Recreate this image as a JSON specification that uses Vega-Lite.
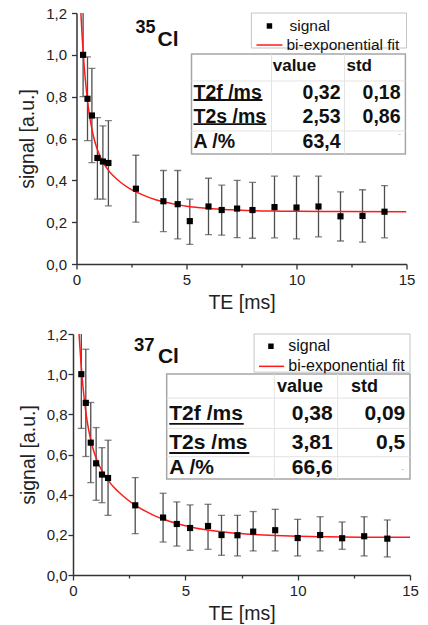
{
  "$schema": "https://vega.github.io/schema/vega-lite/v6.json",
  "padding": {"left": 17, "top": 6, "right": 5, "bottom": 2},
  "spacing": 70,
  "columns": 1,
  "bounds": "flush",
  "center": true,
  "datasets": {
    "cl35": [
      {"te": 0.3, "s": 1.0, "lo": 0.8, "hi": 1.21},
      {"te": 0.5, "s": 0.79, "lo": 0.59, "hi": 0.99},
      {"te": 0.7, "s": 0.71, "lo": 0.485, "hi": 0.935},
      {"te": 0.95, "s": 0.507, "lo": 0.31, "hi": 0.7},
      {"te": 1.2, "s": 0.49, "lo": 0.31, "hi": 0.66},
      {"te": 1.45, "s": 0.483, "lo": 0.278, "hi": 0.685},
      {"te": 2.7, "s": 0.36, "lo": 0.2, "hi": 0.52},
      {"te": 3.95, "s": 0.3, "lo": 0.155, "hi": 0.447},
      {"te": 4.6, "s": 0.286, "lo": 0.12, "hi": 0.447},
      {"te": 5.15, "s": 0.205, "lo": 0.094, "hi": 0.31},
      {"te": 6.0, "s": 0.275, "lo": 0.14, "hi": 0.41},
      {"te": 6.6, "s": 0.258, "lo": 0.138, "hi": 0.377},
      {"te": 7.3, "s": 0.265, "lo": 0.126, "hi": 0.4},
      {"te": 8.0, "s": 0.258, "lo": 0.123, "hi": 0.39},
      {"te": 9.0, "s": 0.272, "lo": 0.125, "hi": 0.42},
      {"te": 10.0, "s": 0.27, "lo": 0.12, "hi": 0.42},
      {"te": 11.0, "s": 0.275, "lo": 0.13, "hi": 0.42},
      {"te": 12.0, "s": 0.228, "lo": 0.11, "hi": 0.345},
      {"te": 13.0, "s": 0.23, "lo": 0.105, "hi": 0.355},
      {"te": 14.0, "s": 0.25, "lo": 0.125, "hi": 0.375}
    ],
    "fit35": [
      {"t": 0.2, "f": 1.2}, {"t": 0.25, "f": 1.1015}, {"t": 0.3, "f": 1.017}, {"t": 0.35, "f": 0.945},
      {"t": 0.4, "f": 0.883}, {"t": 0.5, "f": 0.781}, {"t": 0.6, "f": 0.704}, {"t": 0.7, "f": 0.645},
      {"t": 0.8, "f": 0.599}, {"t": 0.9, "f": 0.562}, {"t": 1.0, "f": 0.533}, {"t": 1.2, "f": 0.488},
      {"t": 1.4, "f": 0.455}, {"t": 1.6, "f": 0.429}, {"t": 1.8, "f": 0.409}, {"t": 2.0, "f": 0.391},
      {"t": 2.4, "f": 0.362}, {"t": 2.8, "f": 0.34}, {"t": 3.2, "f": 0.322}, {"t": 3.6, "f": 0.307},
      {"t": 4.0, "f": 0.296}, {"t": 4.5, "f": 0.285}, {"t": 5.0, "f": 0.276}, {"t": 5.5, "f": 0.27},
      {"t": 6.0, "f": 0.265}, {"t": 7.0, "f": 0.259}, {"t": 8.0, "f": 0.255}, {"t": 9.0, "f": 0.253},
      {"t": 10.0, "f": 0.252}, {"t": 12.0, "f": 0.2505}, {"t": 15.0, "f": 0.25}
    ],
    "cl37": [
      {"te": 0.37, "s": 1.0, "lo": 0.73, "hi": 1.21},
      {"te": 0.57, "s": 0.857, "lo": 0.59, "hi": 1.124},
      {"te": 0.79, "s": 0.659, "lo": 0.46, "hi": 0.859},
      {"te": 1.03, "s": 0.556, "lo": 0.372, "hi": 0.734},
      {"te": 1.29, "s": 0.5, "lo": 0.36, "hi": 0.634},
      {"te": 1.56, "s": 0.483, "lo": 0.297, "hi": 0.671},
      {"te": 2.77, "s": 0.347, "lo": 0.206, "hi": 0.485},
      {"te": 4.01, "s": 0.286, "lo": 0.164, "hi": 0.407},
      {"te": 4.62, "s": 0.254, "lo": 0.144, "hi": 0.364},
      {"te": 5.21, "s": 0.234, "lo": 0.123, "hi": 0.349},
      {"te": 6.01, "s": 0.244, "lo": 0.128, "hi": 0.352},
      {"te": 6.61, "s": 0.199, "lo": 0.098, "hi": 0.297},
      {"te": 7.32, "s": 0.198, "lo": 0.095, "hi": 0.297},
      {"te": 8.02, "s": 0.216, "lo": 0.12, "hi": 0.316},
      {"te": 9.0, "s": 0.223, "lo": 0.12, "hi": 0.327},
      {"te": 10.0, "s": 0.184, "lo": 0.095, "hi": 0.277},
      {"te": 11.0, "s": 0.199, "lo": 0.12, "hi": 0.29},
      {"te": 11.98, "s": 0.183, "lo": 0.128, "hi": 0.264},
      {"te": 12.96, "s": 0.193, "lo": 0.095, "hi": 0.29},
      {"te": 13.99, "s": 0.181, "lo": 0.09, "hi": 0.274}
    ],
    "fit37": [
      {"t": 0.27, "f": 1.2}, {"t": 0.3, "f": 1.147}, {"t": 0.35, "f": 1.064}, {"t": 0.4, "f": 0.993},
      {"t": 0.5, "f": 0.877}, {"t": 0.6, "f": 0.789}, {"t": 0.7, "f": 0.721}, {"t": 0.8, "f": 0.668},
      {"t": 0.9, "f": 0.625}, {"t": 1.0, "f": 0.591}, {"t": 1.2, "f": 0.538}, {"t": 1.4, "f": 0.498},
      {"t": 1.6, "f": 0.466}, {"t": 1.8, "f": 0.439}, {"t": 2.0, "f": 0.417}, {"t": 2.4, "f": 0.377},
      {"t": 2.8, "f": 0.345}, {"t": 3.2, "f": 0.319}, {"t": 3.6, "f": 0.297}, {"t": 4.0, "f": 0.279},
      {"t": 4.5, "f": 0.26}, {"t": 5.0, "f": 0.245}, {"t": 5.5, "f": 0.233}, {"t": 6.0, "f": 0.224},
      {"t": 6.5, "f": 0.2165}, {"t": 7.0, "f": 0.2105}, {"t": 8.0, "f": 0.202}, {"t": 9.0, "f": 0.1965},
      {"t": 10.0, "f": 0.193}, {"t": 11.0, "f": 0.191}, {"t": 12.0, "f": 0.189}, {"t": 13.0, "f": 0.1885},
      {"t": 15.0, "f": 0.188}
    ]
  },
  "concat": [
    {
      "width": 330,
      "height": 251,
      "layer": [
        {"data": {"name": "cl35"}, "mark": {"type": "rule", "color": "#4d4d4d", "strokeWidth": 1.3, "clip": true},
         "encoding": {
           "x": {"field": "te", "type": "quantitative", "scale": {"domain": [0, 15], "nice": false},
                 "axis": {"title": "TE [ms]", "values": [0, 2.5, 5, 7.5, 10, 12.5, 15],
                          "labelExpr": "datum.value % 5 == 0 ? format(datum.value, 'd') : ''",
                          "tickSize": {"condition": {"test": "datum.value % 5 == 0", "value": 5}, "value": 3}}},
           "y": {"field": "lo", "type": "quantitative", "scale": {"domain": [0, 1.2], "nice": false, "zero": false},
                 "axis": {"title": "signal [a.u.]", "labelPadding": 5, "values": [0, 0.1, 0.2, 0.3, 0.4, 0.5, 0.6, 0.7, 0.8, 0.9, 1.0, 1.1, 1.2],
                          "labelExpr": "round(datum.value * 10) % 2 == 0 ? replace(format(datum.value, '.1f'), '.', ',') : ''",
                          "tickSize": {"condition": {"test": "round(datum.value * 10) % 2 == 0", "value": 5}, "value": 3}}},
           "y2": {"field": "hi"}
         }},
        {"data": {"name": "cl35"}, "mark": {"type": "tick", "orient": "horizontal", "color": "#4d4d4d", "size": 7, "thickness": 1.3, "clip": true},
         "encoding": {"x": {"field": "te", "type": "quantitative"}, "y": {"field": "lo", "type": "quantitative"}}},
        {"data": {"name": "cl35"}, "mark": {"type": "tick", "orient": "horizontal", "color": "#4d4d4d", "size": 7, "thickness": 1.3, "clip": true},
         "encoding": {"x": {"field": "te", "type": "quantitative"}, "y": {"field": "hi", "type": "quantitative"}}},
        {"data": {"name": "fit35"}, "mark": {"type": "line", "color": "#ff1a1a", "strokeWidth": 1.5, "clip": true, "interpolate": "monotone"},
         "encoding": {"x": {"field": "t", "type": "quantitative"}, "y": {"field": "f", "type": "quantitative"}}},
        {"data": {"name": "cl35"}, "mark": {"type": "point", "shape": "square", "filled": true, "color": "#000000", "size": 38, "opacity": 1},
         "encoding": {"x": {"field": "te", "type": "quantitative"}, "y": {"field": "s", "type": "quantitative"}}},
        {"data": {"values": [{}]}, "mark": {"type": "text", "text": "35", "align": "left", "baseline": "alphabetic", "fontSize": 18, "fontWeight": "bold", "color": "#111"},
         "encoding": {"x": {"datum": 2.68, "type": "quantitative"}, "y": {"datum": 1.104, "type": "quantitative"}}},
        {"data": {"values": [{}]}, "mark": {"type": "text", "text": "Cl", "align": "left", "baseline": "alphabetic", "fontSize": 21, "fontWeight": "bold", "color": "#111"},
         "encoding": {"x": {"datum": 3.68, "type": "quantitative"}, "y": {"datum": 1.042, "type": "quantitative"}}},
        {"data": {"values": [{}]}, "mark": {"type": "rect", "fill": "#ffffff", "stroke": "#c4c4c4", "strokeWidth": 1},
         "encoding": {"x": {"datum": 7.95, "type": "quantitative"}, "x2": {"datum": 15}, "y": {"datum": 1.0326, "type": "quantitative"}, "y2": {"datum": 1.2}}},
        {"data": {"values": [{}]}, "mark": {"type": "point", "shape": "square", "filled": true, "color": "#000000", "size": 30, "opacity": 1},
         "encoding": {"x": {"datum": 8.77, "type": "quantitative"}, "y": {"datum": 1.138, "type": "quantitative"}}},
        {"data": {"values": [{}]}, "mark": {"type": "text", "text": "signal", "align": "left", "baseline": "middle", "fontSize": 15.5, "color": "#111"},
         "encoding": {"x": {"datum": 9.68, "type": "quantitative"}, "y": {"datum": 1.138, "type": "quantitative"}}},
        {"data": {"values": [{}]}, "mark": {"type": "rule", "color": "#ff1a1a", "strokeWidth": 1.5},
         "encoding": {"x": {"datum": 8.18, "type": "quantitative"}, "x2": {"datum": 9.36}, "y": {"datum": 1.047, "type": "quantitative"}}},
        {"data": {"values": [{}]}, "mark": {"type": "text", "text": "bi-exponential fit", "align": "left", "baseline": "middle", "fontSize": 15.5, "color": "#111"},
         "encoding": {"x": {"datum": 9.545, "type": "quantitative"}, "y": {"datum": 1.047, "type": "quantitative"}}},
        {"data": {"values": [{}]}, "mark": {"type": "rect", "fill": "#ffffff", "stroke": "#a6a6a6", "strokeWidth": 1.5},
         "encoding": {"x": {"datum": 5.227, "type": "quantitative"}, "x2": {"datum": 14.95}, "y": {"datum": 0.526, "type": "quantitative"}, "y2": {"datum": 1.004}}},
        {"data": {"values": [{}]}, "mark": {"type": "rule", "color": "#e3e3e3", "strokeWidth": 1},
         "encoding": {"x": {"datum": 5.227, "type": "quantitative"}, "x2": {"datum": 14.95}, "y": {"datum": 0.875, "type": "quantitative"}}},
        {"data": {"values": [{}]}, "mark": {"type": "rule", "color": "#e3e3e3", "strokeWidth": 1},
         "encoding": {"x": {"datum": 5.227, "type": "quantitative"}, "x2": {"datum": 14.95}, "y": {"datum": 0.636, "type": "quantitative"}}},
        {"data": {"values": [{}]}, "mark": {"type": "rule", "color": "#e3e3e3", "strokeWidth": 1},
         "encoding": {"x": {"datum": 8.864, "type": "quantitative"}, "y": {"datum": 0.526, "type": "quantitative"}, "y2": {"datum": 1.004}}},
        {"data": {"values": [{}]}, "mark": {"type": "rule", "color": "#e3e3e3", "strokeWidth": 1},
         "encoding": {"x": {"datum": 12.18, "type": "quantitative"}, "y": {"datum": 0.526, "type": "quantitative"}, "y2": {"datum": 1.004}}},
        {"data": {"values": [{}]}, "mark": {"type": "text", "text": "value", "align": "left", "baseline": "middle", "fontSize": 17, "fontWeight": "bold", "color": "#111"},
         "encoding": {"x": {"datum": 8.92, "type": "quantitative"}, "y": {"datum": 0.947, "type": "quantitative"}}},
        {"data": {"values": [{}]}, "mark": {"type": "text", "text": "std", "align": "left", "baseline": "middle", "fontSize": 17, "fontWeight": "bold", "color": "#111"},
         "encoding": {"x": {"datum": 12.27, "type": "quantitative"}, "y": {"datum": 0.947, "type": "quantitative"}}},
        {"data": {"values": [{}]}, "mark": {"type": "text", "text": "T2f /ms", "align": "left", "baseline": "middle", "fontSize": 19.5, "fontWeight": "bold", "color": "#111"},
         "encoding": {"x": {"datum": 5.318, "type": "quantitative"}, "y": {"datum": 0.8175, "type": "quantitative"}}},
        {"data": {"values": [{}]}, "mark": {"type": "text", "text": "0,32", "align": "right", "baseline": "middle", "fontSize": 19.5, "fontWeight": "bold", "color": "#111"},
         "encoding": {"x": {"datum": 12.0, "type": "quantitative"}, "y": {"datum": 0.8175, "type": "quantitative"}}},
        {"data": {"values": [{}]}, "mark": {"type": "text", "text": "0,18", "align": "right", "baseline": "middle", "fontSize": 19.5, "fontWeight": "bold", "color": "#111"},
         "encoding": {"x": {"datum": 14.727, "type": "quantitative"}, "y": {"datum": 0.8175, "type": "quantitative"}}},
        {"data": {"values": [{}]}, "mark": {"type": "text", "text": "T2s /ms", "align": "left", "baseline": "middle", "fontSize": 19.5, "fontWeight": "bold", "color": "#111"},
         "encoding": {"x": {"datum": 5.318, "type": "quantitative"}, "y": {"datum": 0.703, "type": "quantitative"}}},
        {"data": {"values": [{}]}, "mark": {"type": "text", "text": "2,53", "align": "right", "baseline": "middle", "fontSize": 19.5, "fontWeight": "bold", "color": "#111"},
         "encoding": {"x": {"datum": 12.0, "type": "quantitative"}, "y": {"datum": 0.703, "type": "quantitative"}}},
        {"data": {"values": [{}]}, "mark": {"type": "text", "text": "0,86", "align": "right", "baseline": "middle", "fontSize": 19.5, "fontWeight": "bold", "color": "#111"},
         "encoding": {"x": {"datum": 14.727, "type": "quantitative"}, "y": {"datum": 0.703, "type": "quantitative"}}},
        {"data": {"values": [{}]}, "mark": {"type": "text", "text": "A /%", "align": "left", "baseline": "middle", "fontSize": 19.5, "fontWeight": "bold", "color": "#111"},
         "encoding": {"x": {"datum": 5.318, "type": "quantitative"}, "y": {"datum": 0.583, "type": "quantitative"}}},
        {"data": {"values": [{}]}, "mark": {"type": "text", "text": "63,4", "align": "right", "baseline": "middle", "fontSize": 19.5, "fontWeight": "bold", "color": "#111"},
         "encoding": {"x": {"datum": 12.0, "type": "quantitative"}, "y": {"datum": 0.583, "type": "quantitative"}}},
        {"data": {"values": [{}]}, "mark": {"type": "text", "text": "-", "align": "center", "baseline": "middle", "fontSize": 8, "color": "#a0a0a0"},
         "encoding": {"x": {"datum": 14.68, "type": "quantitative"}, "y": {"datum": 0.6215, "type": "quantitative"}}},
        {"data": {"values": [{}]}, "mark": {"type": "rule", "color": "#111", "strokeWidth": 1.8},
         "encoding": {"x": {"datum": 5.318, "type": "quantitative"}, "x2": {"datum": 8.455}, "y": {"datum": 0.784, "type": "quantitative"}}},
        {"data": {"values": [{}]}, "mark": {"type": "rule", "color": "#111", "strokeWidth": 1.8},
         "encoding": {"x": {"datum": 5.318, "type": "quantitative"}, "x2": {"datum": 8.636}, "y": {"datum": 0.669, "type": "quantitative"}}}
      ]
    },
    {
      "width": 337,
      "height": 241,
      "layer": [
        {"data": {"name": "cl37"}, "mark": {"type": "rule", "color": "#4d4d4d", "strokeWidth": 1.3, "clip": true},
         "encoding": {
           "x": {"field": "te", "type": "quantitative", "scale": {"domain": [0, 15], "nice": false},
                 "axis": {"title": "TE [ms]", "values": [0, 2.5, 5, 7.5, 10, 12.5, 15],
                          "labelExpr": "datum.value % 5 == 0 ? format(datum.value, 'd') : ''",
                          "tickSize": {"condition": {"test": "datum.value % 5 == 0", "value": 5}, "value": 3}}},
           "y": {"field": "lo", "type": "quantitative", "scale": {"domain": [0, 1.2], "nice": false, "zero": false},
                 "axis": {"title": "signal [a.u.]", "labelPadding": 1, "values": [0, 0.1, 0.2, 0.3, 0.4, 0.5, 0.6, 0.7, 0.8, 0.9, 1.0, 1.1, 1.2],
                          "labelExpr": "round(datum.value * 10) % 2 == 0 ? replace(format(datum.value, '.1f'), '.', ',') : ''",
                          "tickSize": {"condition": {"test": "round(datum.value * 10) % 2 == 0", "value": 5}, "value": 3}}},
           "y2": {"field": "hi"}
         }},
        {"data": {"name": "cl37"}, "mark": {"type": "tick", "orient": "horizontal", "color": "#4d4d4d", "size": 7, "thickness": 1.3, "clip": true},
         "encoding": {"x": {"field": "te", "type": "quantitative"}, "y": {"field": "lo", "type": "quantitative"}}},
        {"data": {"name": "cl37"}, "mark": {"type": "tick", "orient": "horizontal", "color": "#4d4d4d", "size": 7, "thickness": 1.3, "clip": true},
         "encoding": {"x": {"field": "te", "type": "quantitative"}, "y": {"field": "hi", "type": "quantitative"}}},
        {"data": {"name": "fit37"}, "mark": {"type": "line", "color": "#ff1a1a", "strokeWidth": 1.5, "clip": true, "interpolate": "monotone"},
         "encoding": {"x": {"field": "t", "type": "quantitative"}, "y": {"field": "f", "type": "quantitative"}}},
        {"data": {"name": "cl37"}, "mark": {"type": "point", "shape": "square", "filled": true, "color": "#000000", "size": 38, "opacity": 1},
         "encoding": {"x": {"field": "te", "type": "quantitative"}, "y": {"field": "s", "type": "quantitative"}}},
        {"data": {"values": [{}]}, "mark": {"type": "text", "text": "37", "align": "left", "baseline": "alphabetic", "fontSize": 18.5, "fontWeight": "bold", "color": "#111"},
         "encoding": {"x": {"datum": 2.715, "type": "quantitative"}, "y": {"datum": 1.115, "type": "quantitative"}}},
        {"data": {"values": [{}]}, "mark": {"type": "text", "text": "Cl", "align": "left", "baseline": "alphabetic", "fontSize": 21, "fontWeight": "bold", "color": "#111"},
         "encoding": {"x": {"datum": 3.78, "type": "quantitative"}, "y": {"datum": 1.056, "type": "quantitative"}}},
        {"data": {"values": [{}]}, "mark": {"type": "rect", "fill": "#ffffff", "stroke": "#c4c4c4", "strokeWidth": 1},
         "encoding": {"x": {"datum": 8.06, "type": "quantitative"}, "x2": {"datum": 15}, "y": {"datum": 1.01, "type": "quantitative"}, "y2": {"datum": 1.2}}},
        {"data": {"values": [{}]}, "mark": {"type": "point", "shape": "square", "filled": true, "color": "#000000", "size": 30, "opacity": 1},
         "encoding": {"x": {"datum": 8.81, "type": "quantitative"}, "y": {"datum": 1.139, "type": "quantitative"}}},
        {"data": {"values": [{}]}, "mark": {"type": "text", "text": "signal", "align": "left", "baseline": "middle", "fontSize": 16, "color": "#111"},
         "encoding": {"x": {"datum": 9.58, "type": "quantitative"}, "y": {"datum": 1.139, "type": "quantitative"}}},
        {"data": {"values": [{}]}, "mark": {"type": "rule", "color": "#ff1a1a", "strokeWidth": 1.5},
         "encoding": {"x": {"datum": 8.28, "type": "quantitative"}, "x2": {"datum": 9.4}, "y": {"datum": 1.039, "type": "quantitative"}}},
        {"data": {"values": [{}]}, "mark": {"type": "text", "text": "bi-exponential fit", "align": "left", "baseline": "middle", "fontSize": 16, "color": "#111"},
         "encoding": {"x": {"datum": 9.58, "type": "quantitative"}, "y": {"datum": 1.039, "type": "quantitative"}}},
        {"data": {"values": [{}]}, "mark": {"type": "rect", "fill": "#ffffff", "stroke": "#a6a6a6", "strokeWidth": 1.5},
         "encoding": {"x": {"datum": 4.17, "type": "quantitative"}, "x2": {"datum": 15}, "y": {"datum": 0.478, "type": "quantitative"}, "y2": {"datum": 1.001}}},
        {"data": {"values": [{}]}, "mark": {"type": "rule", "color": "#e3e3e3", "strokeWidth": 1},
         "encoding": {"x": {"datum": 4.17, "type": "quantitative"}, "x2": {"datum": 15}, "y": {"datum": 0.881, "type": "quantitative"}}},
        {"data": {"values": [{}]}, "mark": {"type": "rule", "color": "#e3e3e3", "strokeWidth": 1},
         "encoding": {"x": {"datum": 4.17, "type": "quantitative"}, "x2": {"datum": 15}, "y": {"datum": 0.73, "type": "quantitative"}}},
        {"data": {"values": [{}]}, "mark": {"type": "rule", "color": "#e3e3e3", "strokeWidth": 1},
         "encoding": {"x": {"datum": 4.17, "type": "quantitative"}, "x2": {"datum": 15}, "y": {"datum": 0.589, "type": "quantitative"}}},
        {"data": {"values": [{}]}, "mark": {"type": "rule", "color": "#e3e3e3", "strokeWidth": 1},
         "encoding": {"x": {"datum": 8.96, "type": "quantitative"}, "y": {"datum": 0.478, "type": "quantitative"}, "y2": {"datum": 1.001}}},
        {"data": {"values": [{}]}, "mark": {"type": "rule", "color": "#e3e3e3", "strokeWidth": 1},
         "encoding": {"x": {"datum": 11.78, "type": "quantitative"}, "y": {"datum": 0.478, "type": "quantitative"}, "y2": {"datum": 1.001}}},
        {"data": {"values": [{}]}, "mark": {"type": "text", "text": "value", "align": "left", "baseline": "middle", "fontSize": 18, "fontWeight": "bold", "color": "#111"},
         "encoding": {"x": {"datum": 9.08, "type": "quantitative"}, "y": {"datum": 0.935, "type": "quantitative"}}},
        {"data": {"values": [{}]}, "mark": {"type": "text", "text": "std", "align": "left", "baseline": "middle", "fontSize": 18, "fontWeight": "bold", "color": "#111"},
         "encoding": {"x": {"datum": 12.37, "type": "quantitative"}, "y": {"datum": 0.935, "type": "quantitative"}}},
        {"data": {"values": [{}]}, "mark": {"type": "text", "text": "T2f /ms", "align": "left", "baseline": "middle", "fontSize": 21, "fontWeight": "bold", "color": "#111"},
         "encoding": {"x": {"datum": 4.286, "type": "quantitative"}, "y": {"datum": 0.802, "type": "quantitative"}}},
        {"data": {"values": [{}]}, "mark": {"type": "text", "text": "0,38", "align": "right", "baseline": "middle", "fontSize": 21, "fontWeight": "bold", "color": "#111"},
         "encoding": {"x": {"datum": 11.56, "type": "quantitative"}, "y": {"datum": 0.802, "type": "quantitative"}}},
        {"data": {"values": [{}]}, "mark": {"type": "text", "text": "0,09", "align": "right", "baseline": "middle", "fontSize": 21, "fontWeight": "bold", "color": "#111"},
         "encoding": {"x": {"datum": 14.79, "type": "quantitative"}, "y": {"datum": 0.802, "type": "quantitative"}}},
        {"data": {"values": [{}]}, "mark": {"type": "text", "text": "T2s /ms", "align": "left", "baseline": "middle", "fontSize": 21, "fontWeight": "bold", "color": "#111"},
         "encoding": {"x": {"datum": 4.286, "type": "quantitative"}, "y": {"datum": 0.656, "type": "quantitative"}}},
        {"data": {"values": [{}]}, "mark": {"type": "text", "text": "3,81", "align": "right", "baseline": "middle", "fontSize": 21, "fontWeight": "bold", "color": "#111"},
         "encoding": {"x": {"datum": 11.56, "type": "quantitative"}, "y": {"datum": 0.656, "type": "quantitative"}}},
        {"data": {"values": [{}]}, "mark": {"type": "text", "text": "0,5", "align": "right", "baseline": "middle", "fontSize": 21, "fontWeight": "bold", "color": "#111"},
         "encoding": {"x": {"datum": 14.79, "type": "quantitative"}, "y": {"datum": 0.656, "type": "quantitative"}}},
        {"data": {"values": [{}]}, "mark": {"type": "text", "text": "A /%", "align": "left", "baseline": "middle", "fontSize": 21, "fontWeight": "bold", "color": "#111"},
         "encoding": {"x": {"datum": 4.286, "type": "quantitative"}, "y": {"datum": 0.531, "type": "quantitative"}}},
        {"data": {"values": [{}]}, "mark": {"type": "text", "text": "66,6", "align": "right", "baseline": "middle", "fontSize": 21, "fontWeight": "bold", "color": "#111"},
         "encoding": {"x": {"datum": 11.56, "type": "quantitative"}, "y": {"datum": 0.531, "type": "quantitative"}}},
        {"data": {"values": [{}]}, "mark": {"type": "text", "text": "-", "align": "center", "baseline": "middle", "fontSize": 8, "color": "#a0a0a0"},
         "encoding": {"x": {"datum": 14.67, "type": "quantitative"}, "y": {"datum": 0.528, "type": "quantitative"}}},
        {"data": {"values": [{}]}, "mark": {"type": "rule", "color": "#111", "strokeWidth": 1.8},
         "encoding": {"x": {"datum": 4.286, "type": "quantitative"}, "x2": {"datum": 7.6}, "y": {"datum": 0.752, "type": "quantitative"}}},
        {"data": {"values": [{}]}, "mark": {"type": "rule", "color": "#111", "strokeWidth": 1.8},
         "encoding": {"x": {"datum": 4.286, "type": "quantitative"}, "x2": {"datum": 7.847}, "y": {"datum": 0.6075, "type": "quantitative"}}}
      ]
    }
  ],
  "config": {
    "view": {"stroke": null},
    "font": "Liberation Sans",
    "axis": {
      "domainColor": "#333333", "domainWidth": 1.5, "tickColor": "#333333", "tickWidth": 1.3,
      "labelFont": "Liberation Sans", "labelFontSize": 15, "labelColor": "#222222",
      "titleFont": "Liberation Sans", "titleFontSize": 19.5, "titleFontWeight": "normal", "titleColor": "#222222",
      "grid": false, "labelFlush": false, "labelOverlap": false
    },
    "axisX": {"labelPadding": 3, "titlePadding": 6},
    "axisY": {"titlePadding": 8}
  }
}
